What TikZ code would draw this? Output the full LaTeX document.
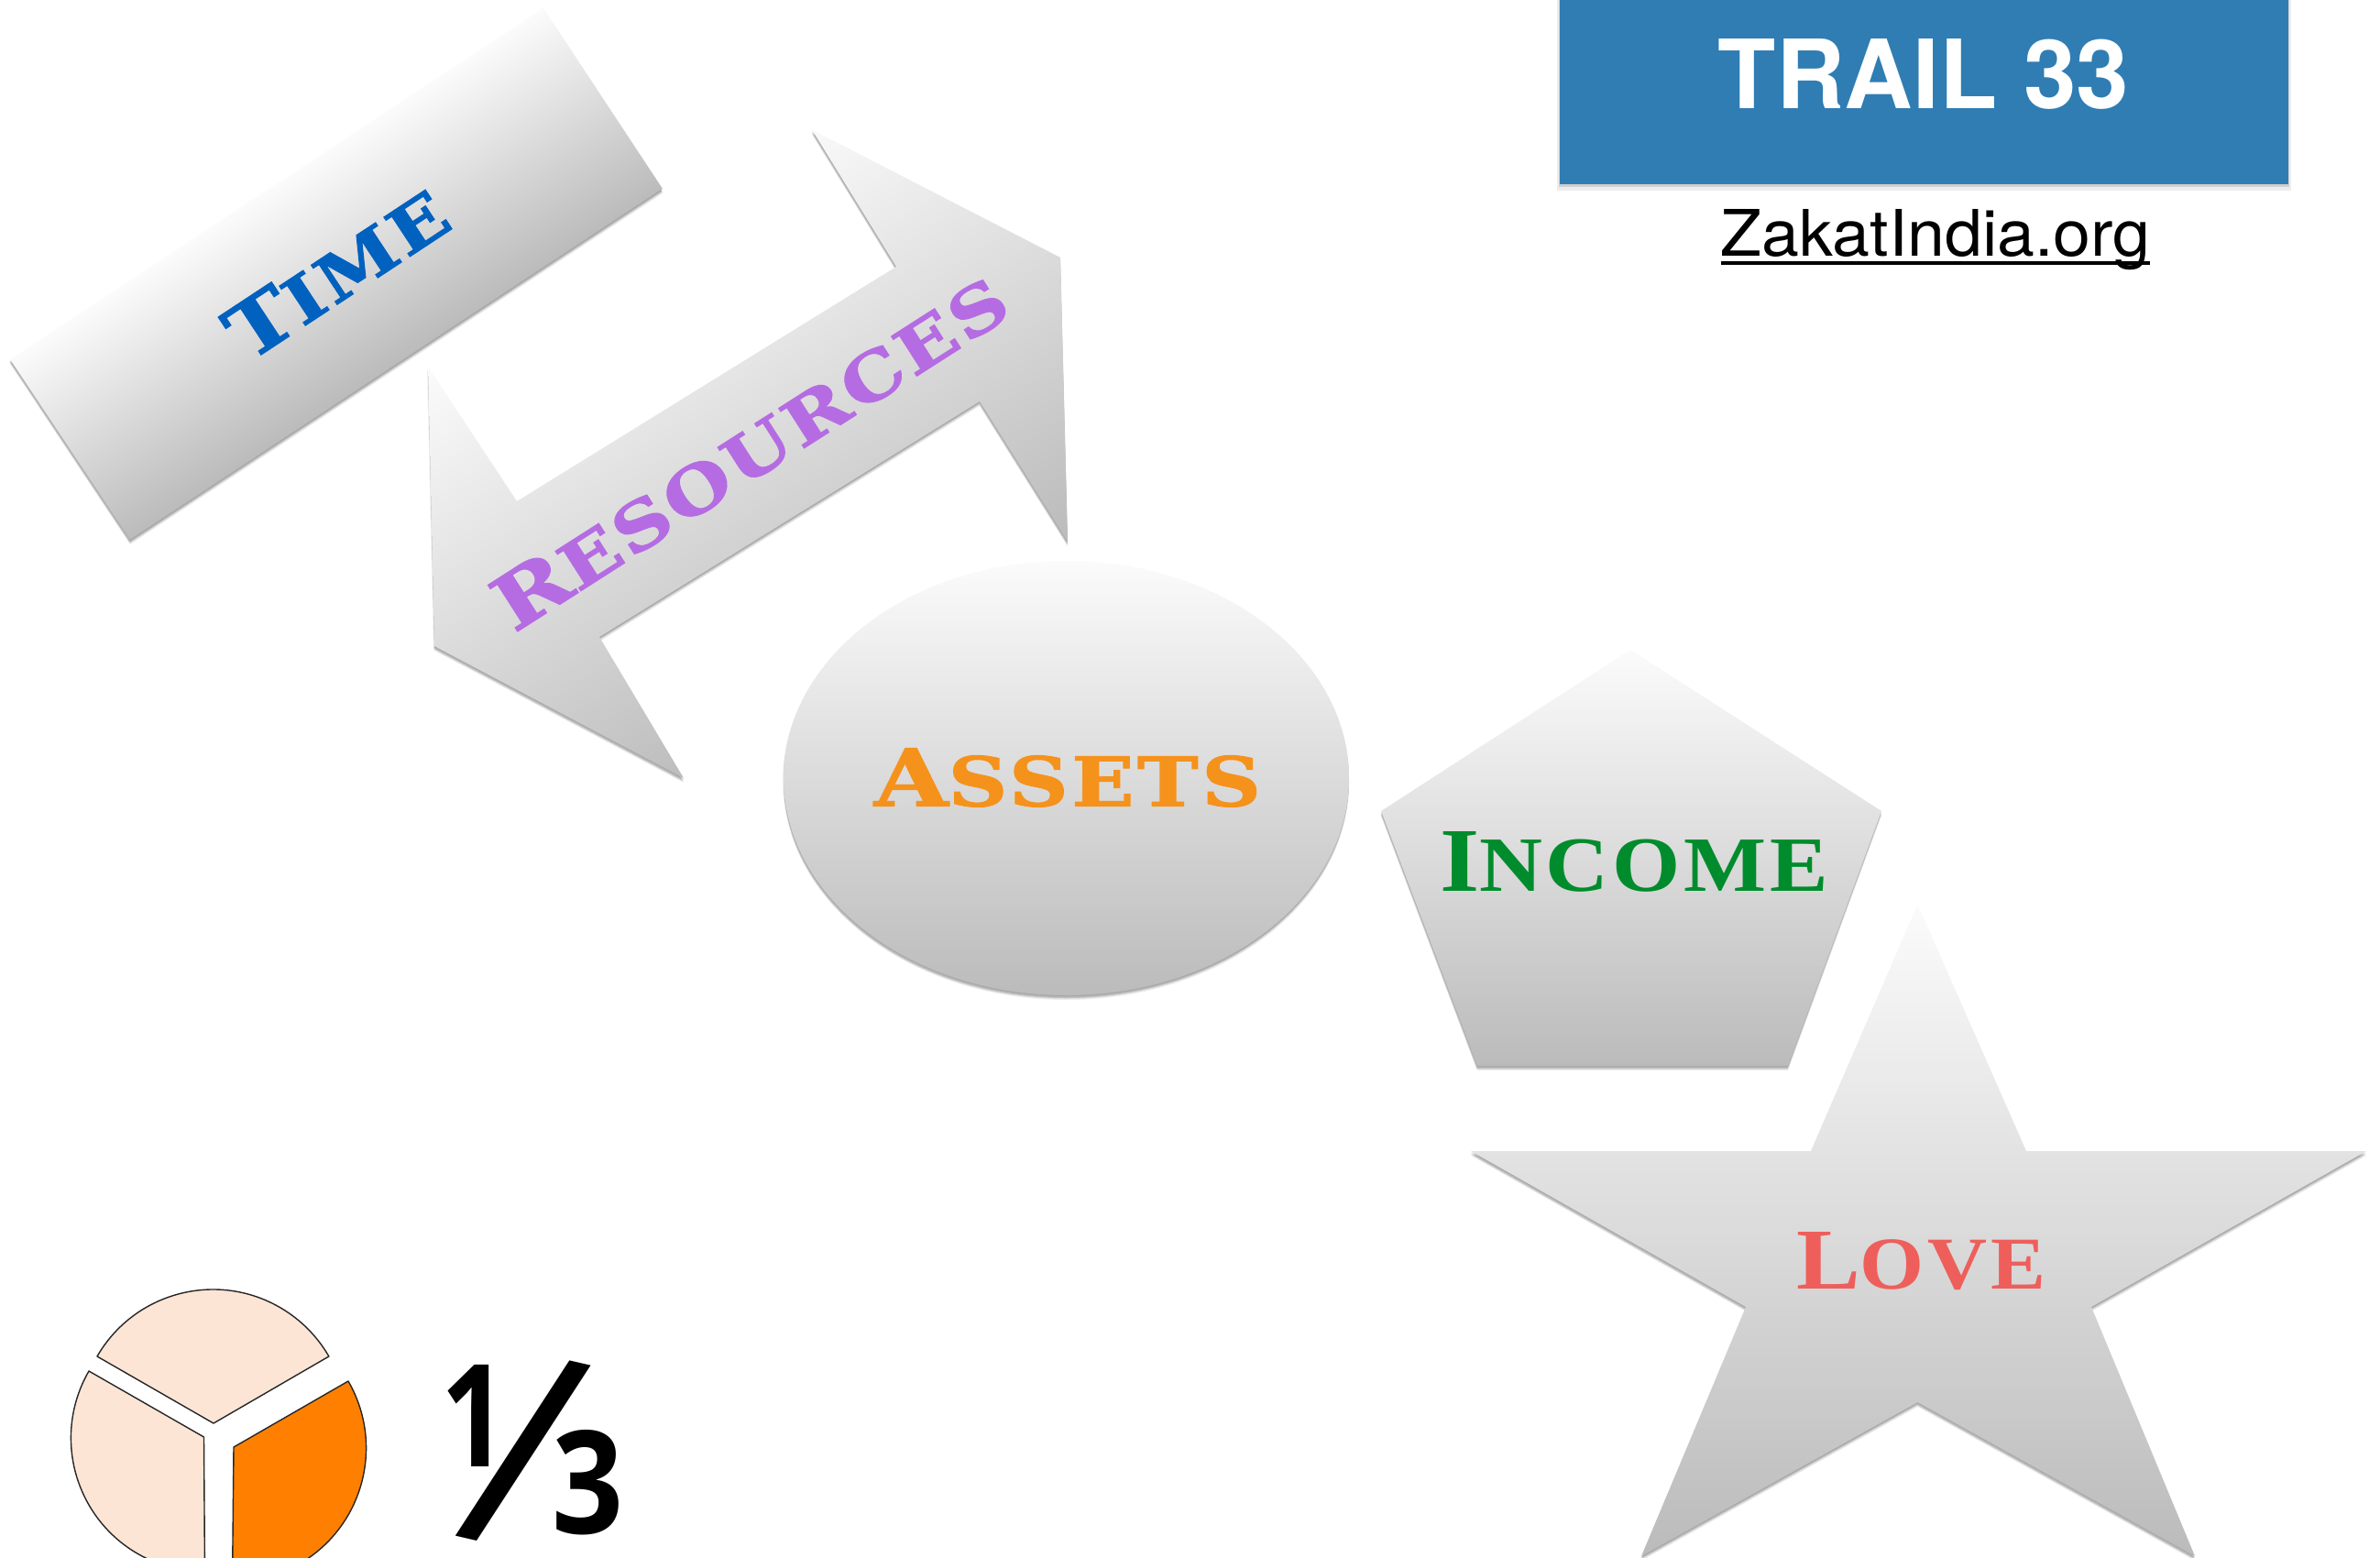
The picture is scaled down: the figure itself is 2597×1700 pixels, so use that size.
\documentclass[tikz,border=0pt]{standalone}
\usepackage{fontspec}
\usepackage{graphicx}
\setmainfont{Liberation Sans}
\newfontfamily\serifbf[FakeBold=1.4,LetterSpace=4]{DejaVu Serif}
\newfontfamily\lserif[LetterSpace=4]{Liberation Serif}
\newfontfamily\heros{TeX Gyre Heros}
\newfontfamily\osans{Open Sans}
\definecolor{topgrey}{HTML}{FBFBFB}
\definecolor{botgrey}{HTML}{BBBBBB}
\definecolor{trailblue}{HTML}{2F7DB3}
\definecolor{timeblue}{HTML}{0061BF}
\definecolor{respurple}{HTML}{B56CE2}
\definecolor{assetorange}{HTML}{F5921C}
\definecolor{incgreen}{HTML}{008C2C}
\definecolor{lovered}{HTML}{EE5F5B}
\definecolor{peach}{HTML}{FDE5D5}
\definecolor{pieorange}{HTML}{FF8000}
\newcommand\capsA[2]{{\serifbf\bfseries\fontsize{100}{100}\selectfont #1\fontsize{86}{100}\selectfont #2}}
\newcommand\capsB[2]{{\lserif\bfseries\fontsize{100}{100}\selectfont #1\fontsize{86}{100}\selectfont #2}}
% shadow below a path held in macro #1
\newcommand\softshadow[1]{%
  \foreach \dx/\dy in {0/1,0/2,-1/3,0/3,0/4,0/5}{
    \fill[black,opacity=.065,shift={(\dx,\dy)}] #1;
  }%
}
% gradient fill: path #1, angle #2, centre #3,#4, half range #5
\newcommand\gradshape[5]{%
  \softshadow{#1}
  \begin{scope}
    \clip #1;
    \shade[transform canvas={rotate around={#2:(#3,#4)}},top color=topgrey,bottom color=botgrey]
      (#3-1200,#4-#5) rectangle (#3+1200,#4+#5);
  \end{scope}
}
\tikzset{
  label text/.style={inner sep=0pt,outer sep=0pt},
  pie part/.style={draw=black!85,line width=1.4pt,line join=round}
}
\begin{document}
\begin{tikzpicture}[x=1pt,y=-1pt]
\useasboundingbox (0,0) rectangle (2597,1700);
\fill[white] (0,0) rectangle (2597,1700);
\def\pTime{(593,9) -- (723,206) -- (142,589) -- (11,392) -- cycle}
\def\pArrow{(886,141.5) -- (1157,281) -- (1165,591) -- (1069,438) -- (654,695) -- (746,849) -- (474,705) -- (467,400) -- (564,547) -- (978,291) -- cycle}
\def\pPent{(1779,709) -- (2053,885) -- (1951,1163) -- (1612,1163) -- (1507,885) -- cycle}
\def\pStar{(2092.5,987) -- (2211,1256) -- (2582,1256) -- (2282,1426) -- (2395,1698) -- (2092.5,1530) -- (1791,1698) -- (1905,1426) -- (1605,1256) -- (1976,1256) -- cycle}
\def\pEll{(1163.5,849) ellipse [x radius=308.5pt,y radius=237pt]}
\gradshape{\pTime}{33.4}{367}{299}{118}
\gradshape{\pArrow}{33.4}{816}{495}{272}
\gradshape{\pEll}{0}{1163.5}{849}{237}
\gradshape{\pPent}{0}{1780}{936}{227}
\gradshape{\pStar}{0}{2092.5}{1342}{355}
% labels
\node[label text,text=timeblue,rotate=33.4] (time) at (367,297) {\resizebox{271pt}{60pt}{\capsA{T}{IME}}};
\node[label text,text=respurple,rotate=32.6] (res) at (818,492) {\resizebox{648pt}{60pt}{\capsA{R}{ESOURCES}}};
\node[label text,text=assetorange] (assets) at (1165,848.5) {\resizebox{422pt}{63pt}{\capsA{A}{SSETS}}};
\node[label text,text=incgreen] (income) at (1783,940.5) {\resizebox{424pt}{65pt}{\capsB{I}{NCOME}}};
\node[label text,text=lovered] (love) at (2096,1376) {\resizebox{272pt}{62pt}{\capsB{L}{OVE}}};
% title
\fill[black,opacity=.07] (1699,-5) rectangle (2500,208);
\fill[black,opacity=.12] (1701,-5) rectangle (2498,204);
\fill[trailblue] (1702,-5) rectangle (2497,201);
\node[label text,text=white] (trail) at (2099,81) {\resizebox{448pt}{76pt}{\heros\bfseries TRAIL 33}};
\node[label text,anchor=base] (zak) at (2112,279) {\scalebox{1.05}[1]{\heros\fontsize{70}{70}\selectfont ZakatIndia.org}};
\coordinate (ulL) at (1878,287);
\coordinate (ulR) at (2346,287);
\draw[line width=3.2pt] (ulL) -- (ulR);
% pie
\draw[pie part,fill=peach] (106,1480) arc[start angle=150,end angle=30,radius=146pt] -- (233,1553) -- cycle;
\draw[pie part,fill=peach] (97,1496) arc[start angle=150,end angle=270,radius=146pt] -- (222.5,1568) -- cycle;
\draw[pie part,fill=pieorange] (380,1507) arc[start angle=30,end angle=-90,radius=146pt] -- (255,1579) -- cycle;
% one third
\node[label text] (one) at (518,1545) {\resizebox{72pt}{111pt}{\osans\bfseries 1}};
\node[label text,rotate=-13] (slash) at (571,1583) {\resizebox{108pt}{214pt}{\osans /}};
\node[label text] (three) at (642,1618) {\resizebox{78pt}{113pt}{\osans\bfseries 3}};
\end{tikzpicture}
\end{document}
